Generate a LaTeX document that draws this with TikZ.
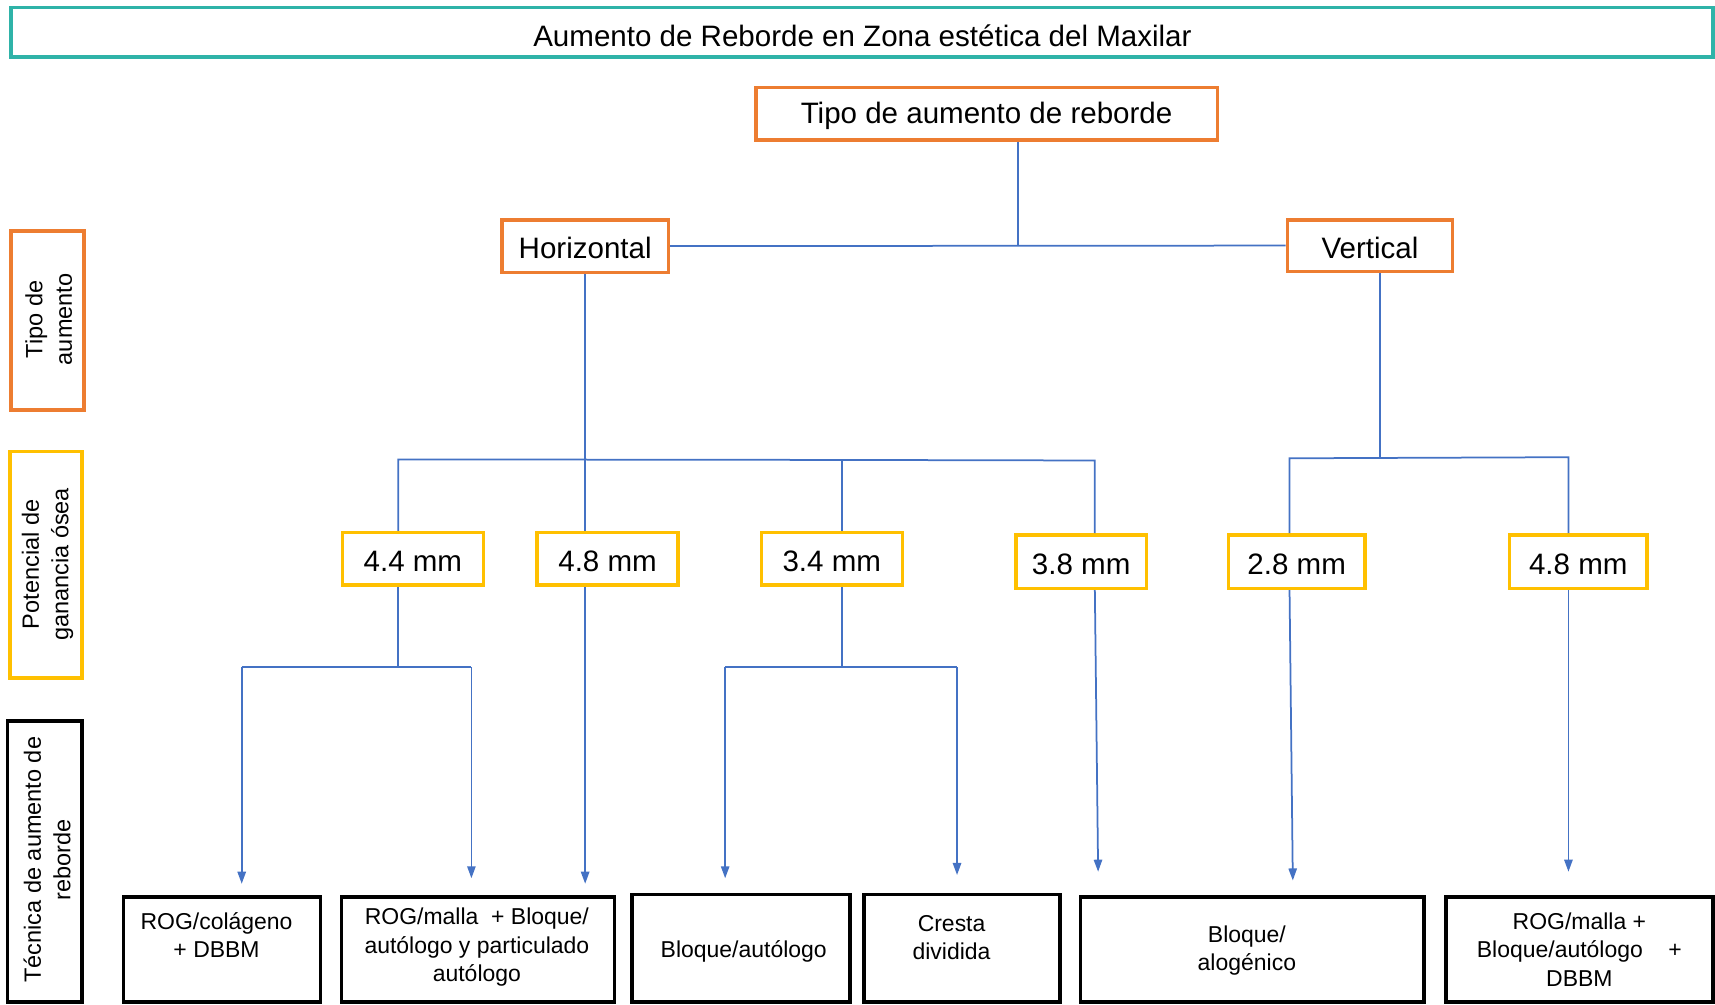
\documentclass[tikz,border=0pt]{standalone}
\usepackage{fontspec}
\setmainfont{Liberation Sans}
\usetikzlibrary{fit,arrows.meta}
\definecolor{tealc}{HTML}{2FB3A8}
\definecolor{orng}{HTML}{ED7D31}
\definecolor{yell}{HTML}{FFC000}
\definecolor{blu}{HTML}{4472C4}
\newcommand\mkbox[6]{\node[#2, fit={(#3,#4) (#5,#6)}] (#1) {};}
\begin{document}
\begin{tikzpicture}[x=0.5pt,y=-0.5pt,
  tealbox/.style={draw=tealc, line width=1.6pt, inner sep=0pt},
  orbox/.style={draw=orng, line width=1.6pt, inner sep=0pt},
  yelbox/.style={draw=yell, line width=1.6pt, inner sep=0pt},
  blkbox/.style={draw=black, line width=1.6pt, inner sep=0pt},
  big/.style={font=\fontsize{13.5}{16}\selectfont, inner sep=0pt, yshift=-1pt},
  small/.style={font=\fontsize{10.5}{13}\selectfont, align=center, inner sep=0pt},
  side/.style={font=\fontsize{10.75}{13.5}\selectfont, align=center, rotate=90, inner sep=0pt},
  conn/.style={draw=blu, line width=0.8pt},
  arr/.style={conn, -{Triangle[length=5.5pt,width=3.8pt]}}]
\useasboundingbox (0,0) rectangle (1568,918);
% title
\mkbox{title}{tealbox}{10}{7}{1566}{52}
\node[big] (titletxt) at (788.5,31) {Aumento de Reborde en Zona estética del Maxilar};
% top level
\mkbox{tipo}{orbox}{691}{80}{1113}{128}
\node[big] (tipotxt) at (902,104) {Tipo de aumento de reborde};
\mkbox{hor}{orbox}{459}{201}{611}{249}
\node[big] (hortxt) at (535,225) {Horizontal};
\mkbox{ver}{orbox}{1177}{201}{1328}{248}
\node[big] (vertxt) at (1252.5,224.5) {Vertical};
% side labels
\mkbox{s1}{orbox}{10}{211}{77}{375}
\node[side] (s1t) at (44.5,292) {Tipo de\\aumento};
\mkbox{s2}{yelbox}{9}{413}{75}{620}
\node[side] (s2t) at (43.5,516) {Potencial de\\ganancia ósea};
\mkbox{s3}{blkbox}{7}{659}{75}{916}
\node[side] (s3t) at (43,786) {Técnica de aumento de\\reborde};
% yellow boxes
\mkbox{y44}{yelbox}{313}{487}{442}{535}
\node[big] (y44t) at (377.5,511) {4.4 mm};
\mkbox{y48a}{yelbox}{491}{487}{620}{535}
\node[big] (y48at) at (555.5,511) {4.8 mm};
\mkbox{y34}{yelbox}{696}{487}{825}{535}
\node[big] (y34t) at (760.5,511) {3.4 mm};
\mkbox{y38}{yelbox}{929}{489}{1048}{538}
\node[big] (y38t) at (988.5,513.5) {3.8 mm};
\mkbox{y28}{yelbox}{1123}{489}{1248}{538}
\node[big] (y28t) at (1185.5,513.5) {2.8 mm};
\mkbox{y48b}{yelbox}{1380}{489}{1506}{538}
\node[big] (y48bt) at (1443,513.5) {4.8 mm};
% bottom boxes
\mkbox{b1}{blkbox}{113}{820}{293}{916}
\node[small] (b1t) at (198,855) {ROG/colágeno\\+ DBBM};
\mkbox{b2}{blkbox}{312}{820}{562}{916}
\node[small] (b2t) at (436,866) {ROG/malla\ \ + Bloque/\\autólogo y particulado\\autólogo};
\mkbox{b3}{blkbox}{578}{818}{777}{916}
\node[small] (b3t) at (680,870) {Bloque/autólogo};
\mkbox{b4}{blkbox}{790}{818}{969}{916}
\node[small] (b4t) at (870,857) {Cresta\\dividida};
\mkbox{b5}{blkbox}{988}{820}{1302}{916}
\node[small] (b5t) at (1140,869) {Bloque/\\alogénico};
\mkbox{b6}{blkbox}{1322}{820}{1566}{916}
\node[small] (b6t) at (1444,868) {ROG/malla +\\Bloque/autólogo\ \ \ \ +\\DBBM};
% coordinates
\coordinate (tj) at (931,225);
\coordinate (hb1) at (364,420);
\coordinate (hb3) at (770,420.5);
\coordinate (hb4) at (1001,421);
\coordinate (vj) at (1262,418);
\coordinate (vb1) at (1179,419);
\coordinate (vb2) at (1434,418);
\coordinate (j44) at (364,610);
\coordinate (a1t) at (221,610);
\coordinate (a2t) at (431,610);
\coordinate (j34) at (770,610);
\coordinate (a4t) at (663,610);
\coordinate (a5t) at (875,610);
\coordinate (a1e) at (221,808);
\coordinate (a2e) at (431,803);
\coordinate (a3e) at (535,808);
\coordinate (a4e) at (663,803);
\coordinate (a5e) at (875,800);
\coordinate (a6e) at (1004,797);
\coordinate (a7e) at (1182,805);
\coordinate (a8e) at (1434,797);
% connectors
\draw[conn] (tipo.south -| tj) -- (tj);
\draw[conn] (hor.east) -- (ver.west);
\draw[conn] (hor.south) -- (hor.south |- y48a.north);
\draw[conn] (y44.north -| hb1) -- (hb1) -- (hb3) -- (hb4) -- (hb4 |- y38.north);
\draw[conn] (hb3) -- (hb3 |- y34.north);
\draw[conn] (ver.south -| vj) -- (vj);
\draw[conn] (y28.north -| vb1) -- (vb1) -- (vb2) -- (vb2 |- y48b.north);
\draw[conn] (y44.south -| j44) -- (j44);
\draw[conn] (a1t) -- (a2t);
\draw[arr] (a1t) -- (a1e);
\draw[arr] (a2t) -- (a2e);
\draw[arr] (y48a.south -| hor.south) -- (a3e);
\draw[conn] (y34.south -| j34) -- (j34);
\draw[conn] (a4t) -- (a5t);
\draw[arr] (a4t) -- (a4e);
\draw[arr] (a5t) -- (a5e);
\draw[arr] (y38.south -| hb4) -- (a6e);
\draw[arr] (y28.south -| vb1) -- (a7e);
\draw[arr] (y48b.south -| vb2) -- (a8e);
\end{tikzpicture}
\end{document}
